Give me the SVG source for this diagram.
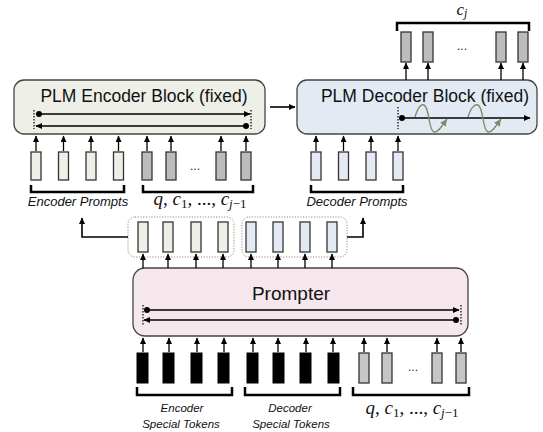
<svg xmlns="http://www.w3.org/2000/svg" width="543" height="432" viewBox="0 0 543 432">
<defs>
<marker id="ah" markerUnits="userSpaceOnUse" markerWidth="7" markerHeight="6" refX="6" refY="3" orient="auto"><path d="M0,0 L6.5,3 L0,6 z" fill="#000"/></marker>
<marker id="ahg" markerUnits="userSpaceOnUse" markerWidth="8" markerHeight="7" refX="7" refY="3.5" orient="auto"><path d="M0,0 L7,3.5 L0,7 z" fill="#7d8c6c"/></marker>
<style>
.blk{stroke:#444;stroke-width:1.3}
.tok{stroke:#333;stroke-width:1.3}
.enc{fill:#eef0e7}
.dec{fill:#e4eaf4}
.gry{fill:#bcbcbc}
.blkt{fill:#000;stroke:#000}
.ttl{font-family:"Liberation Sans",Arial,sans-serif;font-size:17.5px;fill:#111}
.lbl{font-family:"Liberation Sans",Arial,sans-serif;font-size:13px;font-style:italic;fill:#111}
.sml{font-family:"Liberation Sans",Arial,sans-serif;font-size:11.5px;font-style:italic;fill:#111}
.math{font-family:"Liberation Serif","Times New Roman",serif;font-size:19px;fill:#111}
.dots{font-family:"Liberation Sans",Arial,sans-serif;font-size:12px;fill:#222}
.arr{stroke:#000;stroke-width:1.3;fill:none;marker-end:url(#ah)}
.big{stroke:#000;stroke-width:1.6;fill:none;marker-end:url(#ah)}
.vdot{stroke:#000;stroke-width:1.2;stroke-dasharray:1.5 1.5;fill:none}
.brk{stroke:#000;stroke-width:2.5;fill:none}
.grp{fill:none;stroke:#8a9080;stroke-width:1;stroke-dasharray:1.2 1.5}
.wave{stroke:#7d8c6c;stroke-width:1.4;fill:none;marker-end:url(#ahg)}
</style>
</defs>
<rect width="543" height="432" fill="#fff"/>

<g id="encoder-block">
<rect x="14" y="80" width="251" height="54" rx="10" class="blk enc"/>
<text x="144" y="102" class="ttl" text-anchor="middle">PLM Encoder Block (fixed)</text>
<line x1="34" y1="110" x2="34" y2="129" class="vdot"/>
<line x1="251" y1="110" x2="251" y2="129" class="vdot"/>
<circle cx="39" cy="114" r="3"/>
<line x1="39" y1="114" x2="250" y2="114" class="big"/>
<circle cx="246" cy="126" r="3"/>
<line x1="246" y1="126" x2="36" y2="126" class="big"/>
</g>

<g id="decoder-block">
<rect x="297" y="80" width="240" height="54" rx="10" class="blk dec"/>
<text x="425" y="102" class="ttl" text-anchor="middle">PLM Decoder Block (fixed)</text>
<line x1="398" y1="107" x2="398" y2="129" class="vdot"/>
<circle cx="402" cy="118" r="3"/>
<line x1="402" y1="118" x2="530" y2="118" class="big"/>
<path d="M415,117 C418,107 421,104 424,105 C430,108 428,130 434,132 C438,133 442,126 447,119" class="wave"/>
<path d="M468,117 C471,107 475,104 478,105 C484,108 482,130 488,132 C492,133 496,126 501,119" class="wave"/>
</g>

<g id="prompter">
<rect x="133" y="268" width="335" height="68" rx="12" class="blk" fill="#f5e7ec"/>
<text x="291" y="300" class="ttl" text-anchor="middle" style="font-size:19px">Prompter</text>
<line x1="143" y1="305" x2="143" y2="325" class="vdot"/>
<line x1="461" y1="305" x2="461" y2="325" class="vdot"/>
<circle cx="147" cy="310" r="3"/>
<line x1="147" y1="310" x2="459" y2="310" class="big"/>
<circle cx="456" cy="320" r="3"/>
<line x1="456" y1="320" x2="144" y2="320" class="big"/>
</g>

<g id="encoder-prompts">
<rect x="31" y="152" width="10" height="28" class="tok enc"/>
<rect x="58.5" y="152" width="10" height="28" class="tok enc"/>
<rect x="86" y="152" width="10" height="28" class="tok enc"/>
<rect x="113.5" y="152" width="10" height="28" class="tok enc"/>
<path d="M31,185 V192 H124 V185" class="brk"/>
<text x="78" y="206" class="lbl" text-anchor="middle">Encoder Prompts</text>
</g>

<g id="encoder-context">
<rect x="142" y="152" width="10" height="28" class="tok gry"/>
<rect x="166" y="152" width="10" height="28" class="tok gry"/>
<text x="195" y="170" class="dots" text-anchor="middle">...</text>
<rect x="216" y="152" width="10" height="28" class="tok gry"/>
<rect x="241" y="152" width="10" height="28" class="tok gry"/>
<path d="M143,185 V192 H253 V185" class="brk"/>
<text x="200" y="205" class="math" text-anchor="middle"><tspan font-style="italic">q</tspan>, <tspan font-style="italic">c</tspan><tspan font-size="13" dy="3">1</tspan><tspan dy="-3">, ..., </tspan><tspan font-style="italic">c</tspan><tspan font-size="13" dy="3" font-style="italic">j</tspan><tspan font-size="13">−1</tspan></text>
</g>

<g id="decoder-prompts">
<rect x="311" y="152" width="10" height="28" class="tok dec"/>
<rect x="338.5" y="152" width="10" height="28" class="tok dec"/>
<rect x="366" y="152" width="10" height="28" class="tok dec"/>
<rect x="393" y="152" width="10" height="28" class="tok dec"/>
<path d="M311,185 V192 H403 V185" class="brk"/>
<text x="357" y="206" class="lbl" text-anchor="middle">Decoder Prompts</text>
</g>

<g id="decoder-output">
<rect x="401" y="32" width="10" height="30" class="tok gry"/>
<rect x="423" y="32" width="10" height="30" class="tok gry"/>
<text x="462" y="50" class="dots" text-anchor="middle">...</text>
<rect x="496" y="32" width="10" height="30" class="tok gry"/>
<rect x="518" y="32" width="10" height="30" class="tok gry"/>
<path d="M397,31 V23 H529 V31" class="brk"/>
<text x="462" y="15" class="math" text-anchor="middle" style="font-size:17px"><tspan font-style="italic">c</tspan><tspan font-size="12" dy="2" font-style="italic">j</tspan></text>
</g>

<g id="generated-encoder-prompts">
<rect x="128" y="217" width="106" height="40" rx="7" class="grp"/>
<rect x="138" y="222" width="10" height="30" class="tok enc"/>
<rect x="163" y="222" width="10" height="30" class="tok enc"/>
<rect x="191" y="222" width="10" height="30" class="tok enc"/>
<rect x="218" y="222" width="10" height="30" class="tok enc"/>
</g>

<g id="generated-decoder-prompts">
<rect x="242" y="217" width="105" height="40" rx="7" class="grp"/>
<rect x="246" y="222" width="10" height="30" class="tok dec"/>
<rect x="273" y="222" width="10" height="30" class="tok dec"/>
<rect x="300" y="222" width="10" height="30" class="tok dec"/>
<rect x="327" y="222" width="10" height="30" class="tok dec"/>
</g>

<g id="special-tokens">
<rect x="137" y="353" width="11" height="30" class="blkt"/>
<rect x="163" y="353" width="11" height="30" class="blkt"/>
<rect x="191" y="353" width="11" height="30" class="blkt"/>
<rect x="218" y="353" width="11" height="30" class="blkt"/>
<rect x="247" y="353" width="11" height="30" class="blkt"/>
<rect x="273" y="353" width="11" height="30" class="blkt"/>
<rect x="300" y="353" width="11" height="30" class="blkt"/>
<rect x="328" y="353" width="11" height="30" class="blkt"/>
<path d="M137,387 V395 H232 V387" class="brk"/>
<path d="M245,387 V395 H340 V387" class="brk"/>
<text x="182" y="412" class="sml" text-anchor="middle">Encoder</text>
<text x="181" y="428" class="sml" text-anchor="middle">Special Tokens</text>
<text x="290" y="412" class="sml" text-anchor="middle">Decoder</text>
<text x="291" y="428" class="sml" text-anchor="middle">Special Tokens</text>
</g>

<g id="prompter-context">
<rect x="359" y="353" width="10" height="30" class="tok" fill="#c6c6c6"/>
<rect x="382" y="353" width="10" height="30" class="tok" fill="#c6c6c6"/>
<text x="413" y="371" class="dots" text-anchor="middle">...</text>
<rect x="432" y="353" width="10" height="30" class="tok" fill="#c6c6c6"/>
<rect x="456" y="353" width="10" height="30" class="tok" fill="#c6c6c6"/>
<path d="M353,387 V395 H469 V387" class="brk"/>
<text x="412" y="414" class="math" text-anchor="middle"><tspan font-style="italic">q</tspan>, <tspan font-style="italic">c</tspan><tspan font-size="13" dy="3">1</tspan><tspan dy="-3">, ..., </tspan><tspan font-style="italic">c</tspan><tspan font-size="13" dy="3" font-style="italic">j</tspan><tspan font-size="13">−1</tspan></text>
</g>

<g id="connectors">
<line x1="36" y1="151" x2="36" y2="136" class="arr"/>
<line x1="63.5" y1="151" x2="63.5" y2="136" class="arr"/>
<line x1="91" y1="151" x2="91" y2="136" class="arr"/>
<line x1="118.5" y1="151" x2="118.5" y2="136" class="arr"/>
<line x1="147" y1="151" x2="147" y2="136" class="arr"/>
<line x1="171" y1="151" x2="171" y2="136" class="arr"/>
<line x1="221" y1="151" x2="221" y2="136" class="arr"/>
<line x1="246" y1="151" x2="246" y2="136" class="arr"/>
<line x1="316" y1="151" x2="316" y2="136" class="arr"/>
<line x1="343.5" y1="151" x2="343.5" y2="136" class="arr"/>
<line x1="371" y1="151" x2="371" y2="136" class="arr"/>
<line x1="398" y1="151" x2="398" y2="136" class="arr"/>
<line x1="406" y1="80" x2="406" y2="63" class="arr"/>
<line x1="428" y1="80" x2="428" y2="63" class="arr"/>
<line x1="501" y1="80" x2="501" y2="63" class="arr"/>
<line x1="523" y1="80" x2="523" y2="63" class="arr"/>
<line x1="270" y1="107" x2="295" y2="107" class="big"/>
<line x1="143" y1="268" x2="143" y2="254" class="arr"/>
<line x1="168" y1="268" x2="168" y2="254" class="arr"/>
<line x1="196" y1="268" x2="196" y2="254" class="arr"/>
<line x1="223" y1="268" x2="223" y2="254" class="arr"/>
<line x1="251" y1="268" x2="251" y2="254" class="arr"/>
<line x1="278" y1="268" x2="278" y2="254" class="arr"/>
<line x1="305" y1="268" x2="305" y2="254" class="arr"/>
<line x1="332" y1="268" x2="332" y2="254" class="arr"/>
<path d="M128,237 H82 V218" class="big"/>
<path d="M347,237 H363 V218" class="big"/>
<line x1="143" y1="352" x2="143" y2="338" class="arr"/>
<line x1="169" y1="352" x2="169" y2="338" class="arr"/>
<line x1="197" y1="352" x2="197" y2="338" class="arr"/>
<line x1="224" y1="352" x2="224" y2="338" class="arr"/>
<line x1="253" y1="352" x2="253" y2="338" class="arr"/>
<line x1="278" y1="352" x2="278" y2="338" class="arr"/>
<line x1="306" y1="352" x2="306" y2="338" class="arr"/>
<line x1="333" y1="352" x2="333" y2="338" class="arr"/>
<line x1="364" y1="352" x2="364" y2="338" class="arr"/>
<line x1="387" y1="352" x2="387" y2="338" class="arr"/>
<line x1="437" y1="352" x2="437" y2="338" class="arr"/>
<line x1="461" y1="352" x2="461" y2="338" class="arr"/>
</g>
</svg>
